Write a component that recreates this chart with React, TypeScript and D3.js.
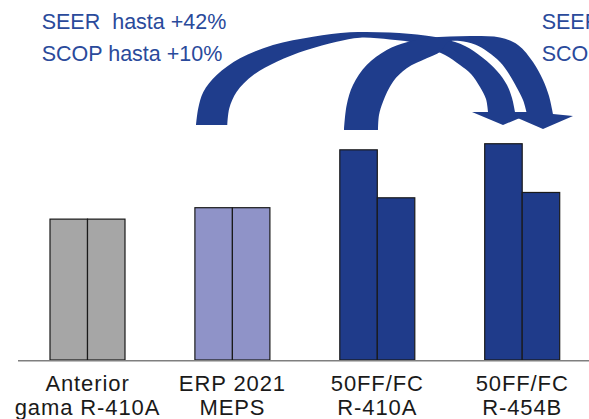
import React from 'react';
import * as d3 from 'd3';

// ---- data ----
const categories = ['anterior', 'erp2021', 'ff410a', 'ff454b'];
const labelLine1 = ['Anterior', 'ERP 2021', '50FF/FC', '50FF/FC'];
const labelLine2 = ['gama R-410A', 'MEPS', 'R-410A', 'R-454B'];
const seriesNames = ['SEER', 'SCOP'];
const seerValues = [92.5, 100, 138, 142];
const scopValues = [92.5, 100, 106.5, 110];
const noteLeft = ['SEER\u00A0 hasta +42%', 'SCOP hasta +10%'];
const noteRight = ['SEER\u00A0 hasta +3%', 'SCOP hasta +3%'];

// ---- styles / layout ----
const W = 589;
const H = 419;
const barFills = ['#a6a6a6', '#8f93c8', '#1f3b8a', '#1f3b8a'];
const arrowColor = '#1f3d8c';
const noteColor = '#2a4a9b';
const FONT = '"Liberation Sans", Arial, Helvetica, sans-serif';

// annotation arrow outlines (decorative shapes, pixel space)
const arrow1Outer: [number, number][] = [
  [196, 125], [198.3, 108], [203.3, 92], [216.7, 75], [240, 58.3], [273, 45], [313, 36.7],
  [350, 32.3], [390, 32.5], [425, 35.5], [445, 39], [465, 46], [483, 58], [497, 71],
  [507, 85], [512, 98], [515, 112],
];
const arrow1Head: [number, number][] = [[534, 112], [503, 125], [472, 112]];
const arrow1Inner: [number, number][] = [
  [488, 112], [486, 99], [480, 87], [471, 74], [460, 65], [445, 55], [428, 48], [410, 42],
  [390, 39.5], [360, 37.7], [336.7, 41.7], [306.7, 50], [276.7, 61.7], [253.3, 75],
  [236.7, 91.7], [229.3, 108.3], [227.3, 125],
];
const arrow2Outer: [number, number][] = [
  [344, 130], [346.7, 105], [353, 85], [366.7, 65], [386.7, 50], [406.7, 42.3], [428, 38],
  [450, 36.5], [475, 36], [500, 37.5], [518, 45], [533, 62], [543, 80], [549, 96], [553, 114],
];
const arrow2Head: [number, number][] = [[573, 116], [543, 129], [513, 116]];
const arrow2Inner: [number, number][] = [
  [527, 114], [523, 100], [517, 88], [509, 74], [500, 62], [488, 52], [475, 44.5], [460, 41],
  [448, 42], [440, 52], [426.7, 58.3], [406.7, 68.3], [393, 81.7], [383, 101.7], [379, 115], [378, 130],
];

const curveLine = d3.line<[number, number]>().curve(d3.curveCatmullRom.alpha(0.5));

function arrowPath(outer: [number, number][], head: [number, number][], inner: [number, number][]) {
  const a = curveLine(outer) || '';
  const b = head.map((p) => `L${p[0]},${p[1]}`).join('');
  const c = (curveLine(inner) || '').replace(/^M/, 'L');
  return a + b + c + 'Z';
}

export default function App() {
  const baseline = 360;
  const x = d3.scaleBand<string>().domain(categories).range([50, 559.7]).paddingInner(0.4824).paddingOuter(0);
  const sub = d3.scaleBand<string>().domain(seriesNames).range([0, x.bandwidth()]);
  const y = d3.scaleLinear().domain([0, 100]).range([baseline, 207.7]);

  const bars = categories.flatMap((c, i) =>
    seriesNames.map((s, j) => {
      const v = j === 0 ? seerValues[i] : scopValues[i];
      return { c, s, v, i, j };
    })
  );

  return (
    <svg
      width={W}
      height={H}
      viewBox={`0 0 ${W} ${H}`}
      style={{ position: 'absolute', left: 0, top: 0, background: '#ffffff' }}
    >
      <rect x={0} y={0} width={W} height={H} fill="#ffffff" />
      {/* bars */}
      {bars.map((b) => (
        <rect
          key={b.c + b.s}
          x={(x(b.c) as number) + (sub(b.s) as number)}
          y={y(b.v)}
          width={sub.bandwidth()}
          height={baseline - y(b.v)}
          fill={barFills[b.i]}
          stroke="#1a1a1a"
          strokeWidth={1.2}
        />
      ))}
      {/* axis line */}
      <line x1={18} x2={W} y1={baseline + 0.8} y2={baseline + 0.8} stroke="#7f7f7f" strokeWidth={1.6} />
      {/* category labels */}
      {categories.map((c, i) => {
        const cx = (x(c) as number) + x.bandwidth() / 2;
        return (
          <g key={c} fontFamily={FONT} fontSize={22} fill="#1a1a1a" textAnchor="middle" letterSpacing={0.9}>
            <text x={cx} y={391}>{labelLine1[i]}</text>
            <text x={cx} y={414.5}>{labelLine2[i]}</text>
          </g>
        );
      })}
      {/* arrows */}
      <path d={arrowPath(arrow1Outer, arrow1Head, arrow1Inner)} fill={arrowColor} />
      <path d={arrowPath(arrow2Outer, arrow2Head, arrow2Inner)} fill={arrowColor} />
      {/* notes */}
      <g fontFamily={FONT} fontSize={21.5} fill={noteColor}>
        <text x={41.7} y={29.3}>{noteLeft[0]}</text>
        <text x={41.7} y={61}>{noteLeft[1]}</text>
        <text x={541.7} y={29.3}>{noteRight[0]}</text>
        <text x={541.7} y={61}>{noteRight[1]}</text>
      </g>
    </svg>
  );
}
